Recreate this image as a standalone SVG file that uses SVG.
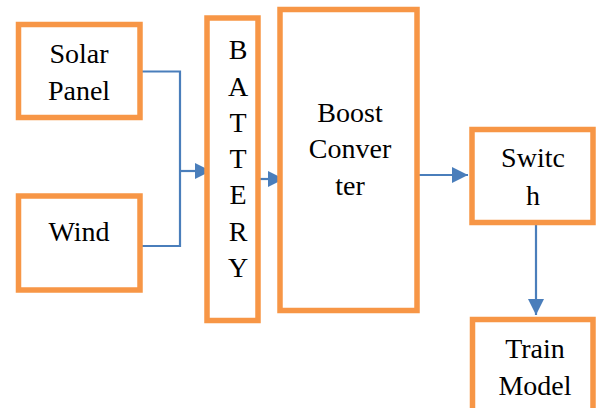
<svg xmlns="http://www.w3.org/2000/svg" width="596" height="408" viewBox="0 0 596 408">
<style>
.box{fill:#fff;stroke:#F79646;stroke-width:5.5}
text{font-family:'Liberation Serif','Times New Roman',serif;font-size:28px;fill:#000;text-anchor:middle}
.con{fill:none;stroke:#4A7EBB;stroke-width:2.2}
</style>
<defs>
<marker id="ah" markerUnits="userSpaceOnUse" markerWidth="18" markerHeight="18" viewBox="0 0 18 18" refX="16" refY="9" orient="auto">
<path d="M0,1 L16,9 L0,17 Z" fill="#4A7EBB"/>
</marker>
</defs>
<rect width="596" height="408" fill="#fff"/>
<g id="connectors">
<polyline class="con" points="141,71.5 180,71.5 180,246 141,246"/>
<line class="con" x1="180" y1="171" x2="211" y2="171" marker-end="url(#ah)"/>
<line class="con" x1="255" y1="179" x2="284" y2="179" marker-end="url(#ah)"/>
<line class="con" x1="419" y1="175" x2="468" y2="175" marker-end="url(#ah)"/>
<line class="con" x1="536" y1="224" x2="536" y2="315" marker-end="url(#ah)"/>
</g>
<g id="solar">
<rect class="box" x="18.5" y="24.5" width="121.5" height="93"/>
<text x="79" y="63" font-family="Liberation Serif, serif">Solar</text>
<text x="79" y="100" font-family="Liberation Serif, serif">Panel</text>
</g>
<g id="wind">
<rect class="box" x="18.5" y="196" width="121.5" height="94"/>
<text x="79" y="241" font-family="Liberation Serif, serif">Wind</text>
</g>
<g id="battery">
<rect class="box" x="207" y="18" width="51" height="302.5"/>
<text x="238" y="59" font-family="Liberation Serif, serif">B</text>
<text x="238" y="95.5" font-family="Liberation Serif, serif">A</text>
<text x="238" y="132" font-family="Liberation Serif, serif">T</text>
<text x="238" y="168" font-family="Liberation Serif, serif">T</text>
<text x="238" y="204" font-family="Liberation Serif, serif">E</text>
<text x="238" y="240.5" font-family="Liberation Serif, serif">R</text>
<text x="238" y="277" font-family="Liberation Serif, serif">Y</text>
</g>
<g id="boost">
<rect class="box" x="280" y="9.5" width="137" height="301"/>
<text x="350" y="122" font-family="Liberation Serif, serif">Boost</text>
<text x="350" y="158" font-family="Liberation Serif, serif">Conver</text>
<text x="350" y="195" font-family="Liberation Serif, serif">ter</text>
</g>
<g id="switch">
<rect class="box" x="472" y="129.5" width="121" height="93"/>
<text x="533" y="167" font-family="Liberation Serif, serif">Switc</text>
<text x="533" y="205" font-family="Liberation Serif, serif">h</text>
</g>
<g id="train">
<rect class="box" x="472.5" y="319.5" width="120.5" height="100"/>
<text x="535" y="358" font-family="Liberation Serif, serif">Train</text>
<text x="535" y="395" font-family="Liberation Serif, serif">Model</text>
</g>
</svg>
